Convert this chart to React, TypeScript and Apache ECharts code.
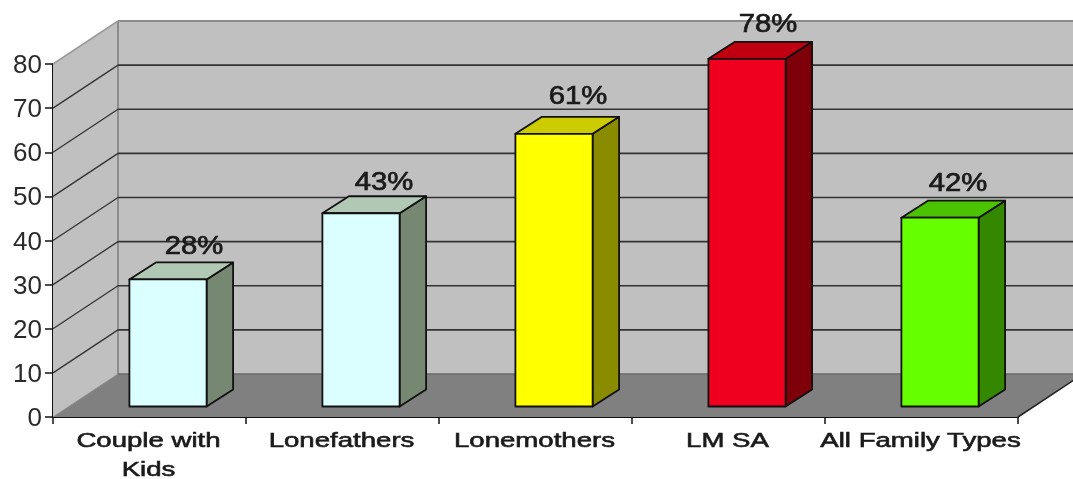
import React, { useEffect, useRef } from "react";
import * as echarts from "echarts";

const categories = ["Couple with\nKids", "Lonefathers", "Lonemothers", "LM SA", "All Family Types"];
const values = [28, 43, 61, 78, 42];
const valueLabels = ["28%", "43%", "61%", "78%", "42%"];
const yTicks = [0, 10, 20, 30, 40, 50, 60, 70, 80];
const frontColors = ["#DBFFFF", "#DBFFFF", "#FFFF00", "#F0001E", "#66FF00"];
const topColors = ["#B0C8B4", "#B0C8B4", "#CCCC00", "#C00010", "#4CC300"];
const sideColors = ["#768872", "#768872", "#8B8B00", "#7E0008", "#338800"];

const FONT = '"Liberation Sans", Arial, sans-serif';
const WALL_DX = 65;
const WALL_DY = -43;
const BAR_DX = 26.5;
const BAR_DY = -17;
const BAR_HALF = 38.6;
const BAR_SHIFT_X = 18.5;
const BAR_BASE_DY = -10.5;
const BAR_TOP_DY = -14;
const EDGE = "#111";
const LABEL_NUDGE_X = [7, 4, 5, 2, -1];
const LABEL_NUDGE_Y = [2, 4, -3, 0, 1];

export default function App() {
  const ref = useRef<HTMLDivElement>(null);
  useEffect(() => {
    document.body.style.margin = "0";
    const chart = echarts.init(ref.current!, null, { renderer: "svg" });
    const wallItem = (params: any, api: any) => {
      const top = api.coord([0, 80])[1];
      const bottom = api.coord([0, 0])[1];
      const left = api.coord([0, 0])[0] - (api.size([1, 0])[0] as number) / 2;
      const right = left + (api.size([1, 0])[0] as number) * categories.length;
      return {
        type: "group",
        children: [
          { type: "polygon", shape: { points: [[left + WALL_DX, top + WALL_DY], [right + WALL_DX, top + WALL_DY], [right + WALL_DX, bottom + WALL_DY], [left + WALL_DX, bottom + WALL_DY]] }, style: { fill: "#C0C0C0" } },
          { type: "polygon", shape: { points: [[left, top], [left + WALL_DX, top + WALL_DY], [left + WALL_DX, bottom + WALL_DY], [left, bottom]] }, style: { fill: "#C0C0C0" } },
          { type: "polygon", shape: { points: [[left, bottom], [right, bottom], [right + WALL_DX, bottom + WALL_DY], [left + WALL_DX, bottom + WALL_DY]] }, style: { fill: "#808080" } },
          { type: "line", shape: { x1: left + WALL_DX, y1: top + WALL_DY, x2: left + WALL_DX, y2: bottom + WALL_DY }, style: { stroke: "#8C8C8C", lineWidth: 2 } },
          { type: "line", shape: { x1: left + WALL_DX, y1: top + WALL_DY, x2: right + WALL_DX, y2: top + WALL_DY }, style: { stroke: "#8C8C8C", lineWidth: 2 } },
          { type: "line", shape: { x1: left, y1: top, x2: left + WALL_DX, y2: top + WALL_DY }, style: { stroke: "#9A9A9A", lineWidth: 1.5 } },
          { type: "line", shape: { x1: left + WALL_DX, y1: bottom + WALL_DY, x2: right + WALL_DX, y2: bottom + WALL_DY }, style: { stroke: "#6A6A6A", lineWidth: 1.5 } },
          { type: "line", shape: { x1: left, y1: bottom, x2: left + WALL_DX, y2: bottom + WALL_DY }, style: { stroke: "#8C8C8C", lineWidth: 1 } },
          { type: "line", shape: { x1: right, y1: bottom, x2: right + WALL_DX, y2: bottom + WALL_DY }, style: { stroke: "#222", lineWidth: 1.5 } },
        ],
      };
    };
    const gridItem = (params: any, api: any) => {
      const v = api.value(1);
      if (v === 0 || v === 80) return { type: "group", children: [] };
      const y = api.coord([0, v])[1];
      const bandW = api.size([1, 0])[0] as number;
      const left = api.coord([0, 0])[0] - bandW / 2;
      const right = left + bandW * categories.length;
      return {
        type: "group",
        children: [
          { type: "line", shape: { x1: left, y1: y, x2: left + WALL_DX, y2: y + WALL_DY }, style: { stroke: "#333", lineWidth: 1.3 } },
          { type: "line", shape: { x1: left + WALL_DX, y1: y + WALL_DY, x2: right + WALL_DX, y2: y + WALL_DY }, style: { stroke: "#333", lineWidth: 1.6 } },
        ],
      };
    };
    const barItem = (params: any, api: any) => {
      const i = params.dataIndex;
      const c = api.coord([i, api.value(1)]);
      const axisY = api.coord([i, 0])[1];
      const base = axisY + BAR_BASE_DY;
      const top = c[1] + BAR_TOP_DY;
      const x0 = c[0] + BAR_SHIFT_X - BAR_HALF;
      const x1 = c[0] + BAR_SHIFT_X + BAR_HALF;
      const edge = { stroke: EDGE, lineWidth: 1.8, lineJoin: "round" };
      return {
        type: "group",
        children: [
          { type: "polygon", shape: { points: [[x1, top], [x1 + BAR_DX, top + BAR_DY], [x1 + BAR_DX, base + BAR_DY], [x1, base]] }, style: { fill: sideColors[i], ...edge } },
          { type: "polygon", shape: { points: [[x0, top], [x0 + BAR_DX, top + BAR_DY], [x1 + BAR_DX, top + BAR_DY], [x1, top]] }, style: { fill: topColors[i], ...edge } },
          { type: "polygon", shape: { points: [[x0, top], [x1, top], [x1, base], [x0, base]] }, style: { fill: frontColors[i], ...edge } },
          {
            type: "text",
            x: c[0] + BAR_SHIFT_X + 19 + LABEL_NUDGE_X[i],
            y: top + BAR_DY - 19 + LABEL_NUDGE_Y[i],
            scaleX: 1.17,
            style: { text: valueLabels[i], fill: "#1A1A1A", font: `25px ${FONT}`, align: "center", verticalAlign: "middle", stroke: "#1A1A1A", lineWidth: 0.7 },
          },
          {
            type: "text",
            x: c[0] - 1,
            y: axisY + 8.5,
            scaleX: 1.38,
            style: { text: categories[i], fill: "#1A1A1A", font: `20px ${FONT}`, lineHeight: 29, align: "center", verticalAlign: "top", stroke: "#1A1A1A", lineWidth: 0.6 },
          },
        ],
      };
    };
    chart.setOption({
      animation: false,
      backgroundColor: "#fff",
      grid: { left: 53, right: 55, top: 64, bottom: 62 },
      xAxis: {
        type: "category",
        data: categories,
        axisLine: { show: true, lineStyle: { color: "#111", width: 2 } },
        axisTick: { show: true, length: 7, lineStyle: { color: "#111", width: 1.5 } },
        axisLabel: { show: false },
      },
      yAxis: {
        type: "value",
        min: 0,
        max: 80,
        interval: 10,
        splitLine: { show: false },
        axisLine: { show: true, lineStyle: { color: "#111", width: 2 } },
        axisTick: { show: true, length: 8, lineStyle: { color: "#111", width: 1.5 } },
        axisLabel: { fontFamily: FONT, fontSize: 26, color: "#2A2A2A", margin: 11, padding: [0, 0, 3, 0] },
      },
      series: [
        { type: "custom", z: 1, silent: true, renderItem: wallItem, data: [[0, 0]], encode: { x: 0, y: 1 }, clip: false },
        { type: "custom", z: 2, silent: true, renderItem: gridItem, data: yTicks.map((t) => [0, t]), encode: { x: 0, y: 1 }, clip: false },
        { type: "custom", z: 3, silent: true, renderItem: barItem, data: values.map((v, i) => [i, v]), encode: { x: 0, y: 1 }, clip: false },
      ],
    });
    return () => chart.dispose();
  }, []);
  return <div ref={ref} style={{ width: 1073, height: 479, filter: "blur(0.6px)" }} />;
}
